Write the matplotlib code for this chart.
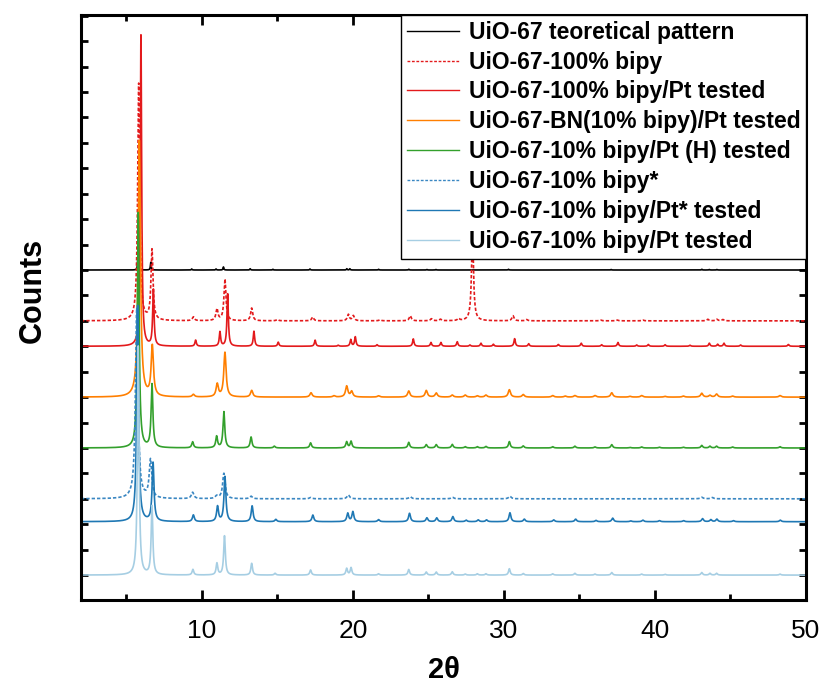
import numpy as np
import matplotlib
matplotlib.use("Agg")
import matplotlib.pyplot as plt
from matplotlib.ticker import MultipleLocator

plt.rcParams['font.family'] = ['Liberation Sans', 'DejaVu Sans']

# ---------------- data (peak positions in 2theta, peak heights in stacked-count units) -------------
labels = [
    "UiO-67 teoretical pattern",
    "UiO-67-100% bipy",
    "UiO-67-100% bipy/Pt tested",
    "UiO-67-BN(10% bipy)/Pt tested",
    "UiO-67-10% bipy/Pt (H) tested",
    "UiO-67-10% bipy*",
    "UiO-67-10% bipy/Pt* tested",
    "UiO-67-10% bipy/Pt tested",
]
offsets = [12, 10, 9, 7, 5, 3, 2.1, 0]

theo_pos = [5.77, 6.62, 9.33, 10.94, 11.43, 13.2, 14.7, 17.16, 19.6, 19.8, 21.7, 23.7, 24.9, 25.5,
            30.3, 37.1, 43.1, 43.6, 44.1]
theo_h = [0.5, 0.3, 0.04, 0.04, 0.12, 0.05, 0.03, 0.04, 0.05, 0.05, 0.03, 0.03, 0.02, 0.02,
          0.03, 0.02, 0.03, 0.02, 0.02]

bipy100_pos = [5.82, 6.70, 9.44, 11.0, 11.53, 13.3, 15.0, 17.34, 19.7, 20.03, 21.8, 23.8, 25.2, 25.8,
               27.0, 27.92, 30.6, 31.5, 36.4, 37.5, 39.2, 43.5, 44.1, 44.5]
bipy100_h = [9.33, 2.76, 0.15, 0.46, 1.64, 0.5, 0.05, 0.15, 0.25, 0.2, 0.04, 0.2, 0.08, 0.06,
             0.08, 3.4, 0.2, 0.05, 0.03, 0.03, 0.03, 0.06, 0.06, 0.05]

bipy100pt_pos = [5.97, 6.79, 9.59, 11.2, 11.71, 13.45, 15.06, 17.5, 19.03, 19.86, 20.16, 21.6, 24.0,
                 25.17, 25.83, 26.91, 27.75, 28.48, 29.3, 30.71, 31.64, 33.6, 35.12, 36.47, 37.55,
                 38.79, 39.56, 40.67, 42.32, 43.6, 44.15, 44.57, 45.67, 48.83]
bipy100pt_h = [12.24, 2.2, 0.24, 0.56, 2.06, 0.59, 0.16, 0.24, 0.04, 0.26, 0.37, 0.06, 0.29,
               0.15, 0.15, 0.18, 0.05, 0.12, 0.08, 0.3, 0.1, 0.07, 0.12, 0.06, 0.15,
               0.05, 0.07, 0.06, 0.04, 0.12, 0.08, 0.12, 0.05, 0.07]

bn_pos = [5.86, 6.72, 9.44, 11.02, 11.53, 13.3, 17.23, 18.75, 19.59, 19.92, 21.7, 23.7, 24.86, 25.52,
          26.58, 27.44, 28.24, 28.81, 30.36, 31.28, 33.23, 34.06, 34.7, 36.03, 37.14, 38.35, 39.12,
          40.67, 41.88, 43.1, 43.64, 44.08, 45.14, 48.28]
bn_h = [10.08, 1.97, 0.1, 0.5, 1.75, 0.26, 0.17, 0.05, 0.43, 0.22, 0.05, 0.24, 0.26, 0.16,
        0.08, 0.08, 0.05, 0.08, 0.29, 0.1, 0.06, 0.04, 0.06, 0.06, 0.17, 0.03, 0.06,
        0.03, 0.04, 0.15, 0.07, 0.12, 0.04, 0.06]

h_pos = [5.79, 6.70, 9.39, 10.98, 11.46, 13.26, 14.8, 17.2, 19.59, 19.88, 23.7, 24.86, 25.52, 26.58,
         27.44, 28.24, 28.81, 30.36, 31.28, 33.23, 34.7, 36.03, 37.14, 38.35, 39.12, 40.3, 41.88,
         43.1, 43.64, 44.08, 45.14, 48.28]
h_h = [9.25, 2.48, 0.24, 0.45, 1.42, 0.43, 0.07, 0.2, 0.24, 0.26, 0.22, 0.13, 0.13, 0.14,
       0.05, 0.05, 0.06, 0.25, 0.08, 0.05, 0.07, 0.04, 0.13, 0.02, 0.04, 0.03, 0.03,
       0.1, 0.07, 0.07, 0.04, 0.05]

bipy10s_pos = [5.69, 6.6, 9.39, 10.98, 11.46, 13.26, 17.2, 19.7, 23.8, 26.6, 30.4, 43.1, 43.8]
bipy10s_h = [7.5, 1.5, 0.25, 0.1, 1.0, 0.1, 0.05, 0.15, 0.08, 0.06, 0.1, 0.06, 0.05]

pts_pos = [5.75, 6.77, 9.44, 11.04, 11.53, 13.33, 14.9, 17.35, 19.66, 20.0, 21.7, 23.75, 24.9, 25.55,
           26.62, 27.5, 28.3, 28.85, 30.4, 31.35, 33.3, 34.75, 36.1, 37.2, 38.4, 39.2, 40.3, 41.9,
           43.15, 43.7, 44.1, 45.2, 48.3]
pts_h = [8.5, 2.3, 0.26, 0.59, 1.77, 0.62, 0.09, 0.26, 0.33, 0.39, 0.08, 0.33, 0.15, 0.15,
         0.2, 0.06, 0.07, 0.07, 0.35, 0.1, 0.07, 0.1, 0.05, 0.14, 0.03, 0.06, 0.04, 0.04,
         0.12, 0.08, 0.1, 0.04, 0.06]

pt_pos = [5.79, 6.7, 9.41, 11.0, 11.5, 13.3, 14.85, 17.2, 19.59, 19.88, 21.7, 23.7, 24.86, 25.52,
          26.58, 27.44, 28.24, 28.81, 30.36, 31.28, 33.23, 34.7, 36.03, 37.14, 39.12, 40.67,
          43.1, 43.64, 44.08, 48.28]
pt_h = [9.0, 2.7, 0.22, 0.46, 1.54, 0.46, 0.07, 0.2, 0.26, 0.29, 0.05, 0.22, 0.12, 0.12,
        0.13, 0.04, 0.05, 0.05, 0.25, 0.06, 0.05, 0.07, 0.04, 0.1, 0.04, 0.03,
        0.1, 0.07, 0.07, 0.04]

peak_lists = [(theo_pos, theo_h), (bipy100_pos, bipy100_h), (bipy100pt_pos, bipy100pt_h),
              (bn_pos, bn_h), (h_pos, h_h), (bipy10s_pos, bipy10s_h), (pts_pos, pts_h), (pt_pos, pt_h)]

# ---------------- styles ----------------
colors = ["black", "#e31a1c", "#e31a1c", "#ff7f00", "#33a02c", "#3a87c2", "#1f78b4", "#a6cee3"]
styles = ["-", (0, (2, 1.2)), "-", "-", "-", (0, (2, 1.2)), "-", "-"]
fwhms = [0.06, 0.16, 0.11, 0.18, 0.14, 0.2, 0.15, 0.13]

x = np.arange(2.0, 50.0001, 0.01)


def profile(pos, h, w):
    y = np.zeros_like(x)
    for p, a in zip(pos, h):
        y += a / (1.0 + ((x - p) / (w / 2.0)) ** 2)
    return y


fig = plt.figure(figsize=(8.22, 6.84), dpi=100)
ax = fig.add_axes([81 / 822, 1 - 600 / 684, 725 / 822, 585 / 684])

for i, (lab, (pos, h)) in enumerate(zip(labels, peak_lists)):
    y = profile(pos, h, fwhms[i]) + offsets[i]
    ax.plot(x, y, color=colors[i], linestyle=styles[i], lw=1.2, label=lab)

ax.set_xlim(2, 50)
ax.set_ylim(-0.98, 22.03)
ax.xaxis.set_major_locator(MultipleLocator(10))
ax.xaxis.set_minor_locator(MultipleLocator(5))
ax.yaxis.set_major_locator(MultipleLocator(1))
ax.set_yticklabels([])
ax.tick_params(axis='both', which='both', direction='in', top=True, right=True, width=2)
ax.tick_params(axis='x', which='major', length=7, pad=14)
ax.tick_params(axis='x', which='minor', length=4)
ax.tick_params(axis='y', which='major', length=5, labelleft=False)
for lbl in ax.get_xticklabels():
    lbl.set_family(['Liberation Sans Narrow', 'Liberation Sans', 'DejaVu Sans'])
    lbl.set_fontsize(19)
for s in ax.spines.values():
    s.set_linewidth(2.2)

ax.set_xlabel("2θ", fontsize=21, fontweight='bold')
ax.xaxis.label.set_va('center')
ax.xaxis.set_label_coords(0.5, -0.12)
ax.set_ylabel("Counts", fontsize=22, fontweight='bold')
ax.yaxis.label.set_ha('center')
ax.yaxis.label.set_va('center')
ax.yaxis.set_label_coords(-0.067, 0.53)

leg = ax.legend(loc='upper right', borderaxespad=0, frameon=True, fancybox=False,
                framealpha=1, edgecolor='black', handlelength=2.3, handletextpad=0.4,
                labelspacing=0.3, borderpad=0.25, prop={'weight': 'bold', 'size': 16.5})
leg.get_frame().set_linewidth(1.0)
for line in leg.get_lines():
    line.set_linewidth(1.0)

fig.savefig("out.png", dpi=100)
